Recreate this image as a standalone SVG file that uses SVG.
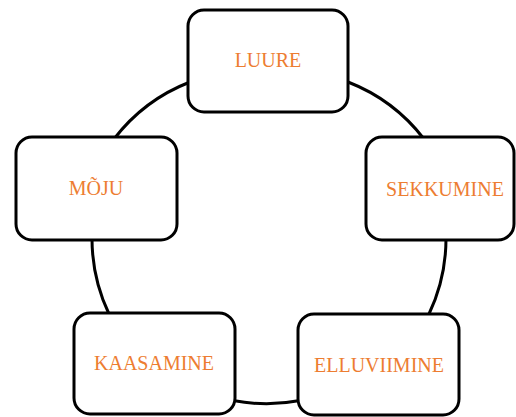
<svg xmlns="http://www.w3.org/2000/svg" width="516" height="417" viewBox="0 0 516 417">
<style>
.box{fill:#fff;stroke:#000;stroke-width:3}
.lbl{font-family:"Liberation Serif","Times New Roman",serif;font-size:20px;fill:#ED7D31;text-anchor:middle}
.arc{fill:none;stroke:#000;stroke-width:3}
</style>
<rect width="516" height="417" fill="#fff"/>
<g id="connectors">
<path class="arc" d="M114,139 A176,176 0 0 1 190,82"/>
<path class="arc" d="M348,82 A176,176 0 0 1 424,139"/>
<path class="arc" d="M446,238 A176,176 0 0 1 429,314"/>
<path class="arc" d="M300,400.5 A176,176 0 0 1 233,400.5"/>
<path class="arc" d="M109,314 A176,176 0 0 1 92,238"/>
</g>
<g id="luure"><rect class="box" x="188" y="10" width="160" height="102" rx="16"/><text class="lbl" x="268" y="67">LUURE</text></g>
<g id="sekkumine"><rect class="box" x="366" y="137" width="148" height="103" rx="16"/><text class="lbl" x="445" y="196">SEKKUMINE</text></g>
<g id="elluviimine"><rect class="box" x="298" y="314" width="161" height="101" rx="16"/><text class="lbl" x="379" y="372">ELLUVIIMINE</text></g>
<g id="kaasamine"><rect class="box" x="74" y="313" width="161" height="101" rx="16"/><text class="lbl" x="154" y="370">KAASAMINE</text></g>
<g id="moju"><rect class="box" x="16" y="137" width="161" height="103" rx="16"/><text class="lbl" x="96" y="195">MÕJU</text></g>
</svg>
